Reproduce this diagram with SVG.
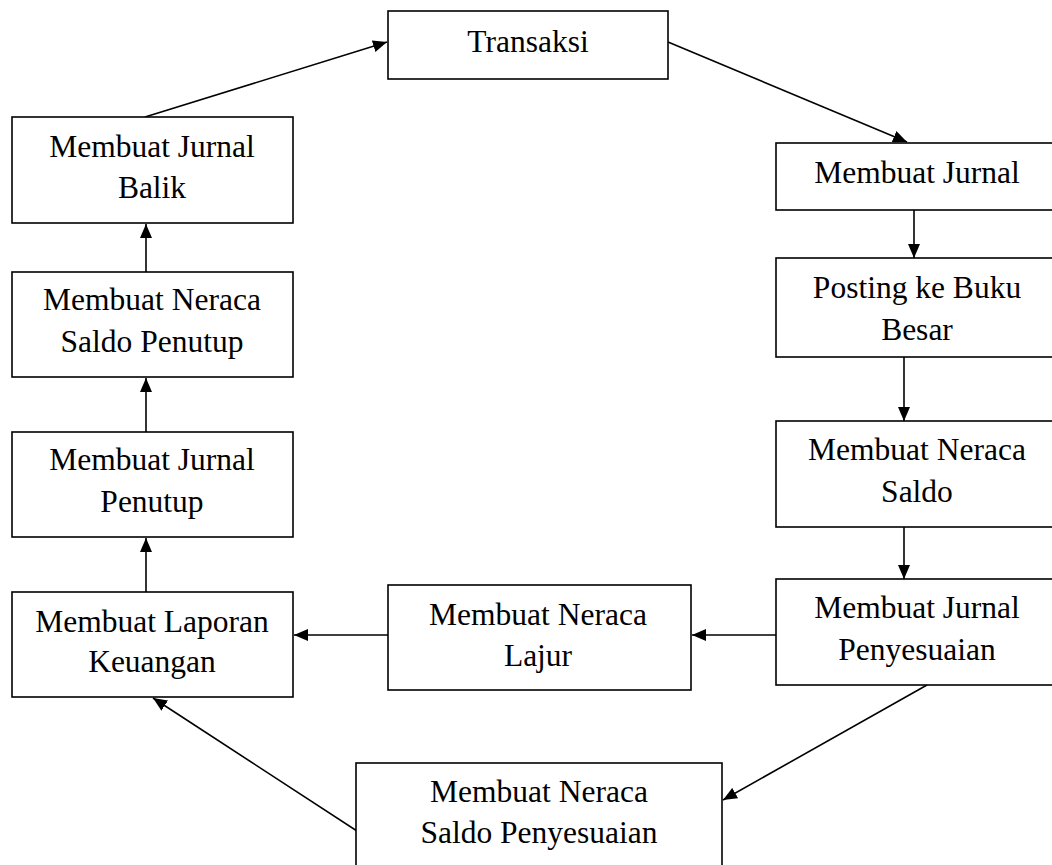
<svg xmlns="http://www.w3.org/2000/svg" width="1052" height="865" viewBox="0 0 1052 865">
<defs>
<marker id="ah" viewBox="0 0 14 12" refX="14" refY="6" markerWidth="14" markerHeight="12" markerUnits="userSpaceOnUse" orient="auto">
<path d="M0,0 L14,6 L0,12 z" fill="#000"/>
</marker>
<style>
.box{fill:#fff;stroke:#000;stroke-width:1.6}
.t{font-family:"Liberation Serif","Times New Roman",serif;font-size:31.5px;fill:#000;text-anchor:middle}
.c{fill:none;stroke:#000;stroke-width:1.6;marker-end:url(#ah)}
</style>
</defs>
<rect width="1052" height="865" fill="#fff"/>
<g id="connectors">
<line class="c" x1="145" y1="117" x2="387" y2="42"/>
<line class="c" x1="668" y1="42" x2="907" y2="142"/>
<line class="c" x1="914" y1="210" x2="914" y2="258"/>
<line class="c" x1="904" y1="357" x2="904" y2="421"/>
<line class="c" x1="904" y1="527" x2="904" y2="579"/>
<line class="c" x1="776" y1="635" x2="692" y2="635"/>
<line class="c" x1="388" y1="635" x2="294" y2="635"/>
<line class="c" x1="927" y1="685" x2="723" y2="800"/>
<line class="c" x1="380" y1="846" x2="153" y2="698"/>
<line class="c" x1="146" y1="592" x2="146" y2="538"/>
<line class="c" x1="146" y1="432" x2="146" y2="378"/>
<line class="c" x1="146" y1="272" x2="146" y2="224"/>
</g>
<g id="transaksi">
<rect class="box" x="388" y="11" width="280" height="68"/>
<text class="t" x="528" y="52">Transaksi</text>
</g>
<g id="membuat-jurnal">
<rect class="box" x="776" y="143" width="282" height="67"/>
<text class="t" x="917" y="183">Membuat Jurnal</text>
</g>
<g id="posting">
<rect class="box" x="776" y="258" width="282" height="99"/>
<text class="t" x="917" y="298">Posting ke Buku</text>
<text class="t" x="917" y="340">Besar</text>
</g>
<g id="neraca-saldo">
<rect class="box" x="776" y="421" width="282" height="106"/>
<text class="t" x="917" y="460">Membuat Neraca</text>
<text class="t" x="917" y="502">Saldo</text>
</g>
<g id="jurnal-penyesuaian">
<rect class="box" x="776" y="579" width="282" height="106"/>
<text class="t" x="917" y="618">Membuat Jurnal</text>
<text class="t" x="917" y="660">Penyesuaian</text>
</g>
<g id="neraca-lajur">
<rect class="box" x="388" y="585" width="303" height="105"/>
<text class="t" x="538" y="625">Membuat Neraca</text>
<text class="t" x="538" y="666">Lajur</text>
</g>
<g id="neraca-saldo-penyesuaian">
<rect class="box" x="356" y="763" width="366" height="120"/>
<text class="t" x="539" y="802">Membuat Neraca</text>
<text class="t" x="539" y="843">Saldo Penyesuaian</text>
</g>
<g id="laporan-keuangan">
<rect class="box" x="12" y="592" width="281" height="105"/>
<text class="t" x="152" y="632">Membuat Laporan</text>
<text class="t" x="152" y="672">Keuangan</text>
</g>
<g id="jurnal-penutup">
<rect class="box" x="12" y="432" width="281" height="105"/>
<text class="t" x="152" y="470">Membuat Jurnal</text>
<text class="t" x="152" y="512">Penutup</text>
</g>
<g id="neraca-saldo-penutup">
<rect class="box" x="12" y="272" width="281" height="105"/>
<text class="t" x="152" y="310">Membuat Neraca</text>
<text class="t" x="152" y="352">Saldo Penutup</text>
</g>
<g id="jurnal-balik">
<rect class="box" x="12" y="117" width="281" height="106"/>
<text class="t" x="152" y="157">Membuat Jurnal</text>
<text class="t" x="152" y="198">Balik</text>
</g>
</svg>
